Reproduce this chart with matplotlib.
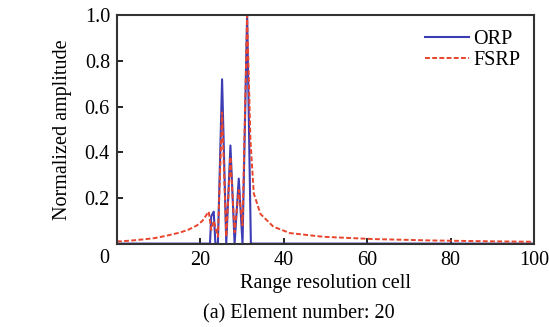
import matplotlib.pyplot as plt

# ORP: original range profile (sharp peaks with nulls between them)
orp_x = [0, 22.3, 22.6, 23.2, 23.6, 24.2, 25.2, 26.2, 27.2, 28.2, 29.2, 30.1, 31.2, 32.1, 32.4, 100]
orp_y = [0, 0, 0.12, 0.14, 0.0, 0.0, 0.72, 0.0, 0.43, 0.0, 0.285, 0.0, 1.0, 0.0, 0, 0]

# FSRP: super-resolution profile with long tails
fsrp_x = [0, 1, 5, 9, 12, 15, 17, 19.2, 20.5, 21.6, 22.0, 22.6, 23.2, 24.2, 25.2, 26.2, 27.2,
          28.2, 29.2, 30.1, 31.2, 32.0, 32.8, 34.4, 37.5, 41.5, 49.4, 61.3, 75, 90, 100]
fsrp_y = [0.01, 0.01, 0.016, 0.024, 0.035, 0.048, 0.06, 0.08, 0.1, 0.13, 0.14, 0.06, 0.1, 0.03,
          0.575, 0.03, 0.38, 0.05, 0.235, 0.08, 1.0, 0.45, 0.22, 0.13, 0.074, 0.046, 0.03,
          0.02, 0.014, 0.01, 0.008]

plt.rcParams['font.family'] = ['Liberation Serif', 'DejaVu Serif']
FS = 14.5

fig = plt.figure(figsize=(5.49, 3.27), dpi=100)
ax = fig.add_axes([0.213, 0.255, 0.76, 0.698])

ax.plot(orp_x, orp_y, color='#3c3cb4', linewidth=1.5, label='ORP')
ax.plot(fsrp_x, fsrp_y, color='#e8452c', linewidth=1.4, linestyle=(0, (2.5, 1.2)), label='FSRP')

ax.set_xlim(0, 100)
ax.set_ylim(0, 1.0)
ax.set_xticks([0, 20, 40, 60, 80, 100])
ax.set_xticklabels(['', '20', '40', '60', '80', '100'])
ax.set_yticks([0.2, 0.4, 0.6, 0.8, 1.0])
ax.set_yticklabels(['0.2', '0.4', '0.6', '0.8', '1.0'])
ax.tick_params(direction='in', labelsize=FS, length=4, width=1.2, pad=5)
for s in ax.spines.values():
    s.set_linewidth(1.5)
    s.set_color('#333333')

ax.text(-0.03, -0.025, '0', transform=ax.transAxes, fontsize=FS, ha='center', va='top')

ax.set_xlabel('Range resolution cell', fontsize=FS, labelpad=3)
ax.set_ylabel('Normalized amplitude', fontsize=FS, labelpad=9)
ax.legend(loc='upper right', frameon=False, fontsize=FS, handlelength=2.2,
          handletextpad=0.2, labelspacing=0.1, borderaxespad=0.3)

fig.text(0.545, 0.012, '(a) Element number: 20', fontsize=FS, ha='center', va='bottom')

fig.savefig('out.png', dpi=100)
